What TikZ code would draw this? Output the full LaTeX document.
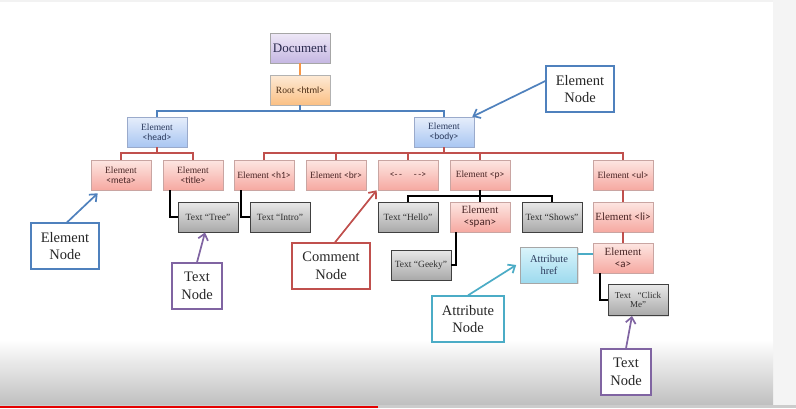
\documentclass[tikz,border=0pt]{standalone}
\usepackage{fontspec}
\setmainfont{Liberation Serif}
\newfontfamily\tagf{Carlito}
\usetikzlibrary{shadows,arrows.meta}
\definecolor{bluetop}{HTML}{E6EEFB}
\definecolor{bluebot}{HTML}{A9C6F2}
\definecolor{bluebd}{HTML}{9AAACB}
\definecolor{redtop}{HTML}{FDE6E2}
\definecolor{redbot}{HTML}{F6A9A1}
\definecolor{redbd}{HTML}{C9A5A2}
\definecolor{graytop}{HTML}{E8E8E8}
\definecolor{graybot}{HTML}{A9A9A9}
\definecolor{doctop}{HTML}{EEE8F7}
\definecolor{docbot}{HTML}{C5B7E2}
\definecolor{roottop}{HTML}{FDEAD6}
\definecolor{rootbot}{HTML}{FBC084}
\definecolor{attrtop}{HTML}{DAF4FB}
\definecolor{attrbot}{HTML}{9DDAEE}
\definecolor{cblue}{HTML}{4F81BD}
\definecolor{cred}{HTML}{C0504D}
\definecolor{corange}{HTML}{F79646}
\definecolor{cteal}{HTML}{4BACC6}
\definecolor{cpurple}{HTML}{8064A2}
\definecolor{txtblue}{HTML}{2B3A5C}
\definecolor{txtred}{HTML}{4A2626}
\definecolor{txtgray}{HTML}{303030}
\definecolor{txtroot}{HTML}{4A2C14}
\definecolor{txtdoc}{HTML}{2A2A4E}
\begin{document}
\begin{tikzpicture}[x=1pt,y=-1pt,
  base/.style={rectangle, minimum width=60pt, minimum height=30pt, inner sep=1pt,
    align=center, line width=0.6pt,
    drop shadow={shadow xshift=1.2pt,shadow yshift=-1.2pt,opacity=0.22},
    font=\fontsize{9.5}{10.5}\selectfont},
  bluebox/.style={base, text=txtblue, draw=bluebd, top color=bluetop, bottom color=bluebot},
  redbox/.style={base, text=txtred, draw=redbd, top color=redtop, bottom color=redbot},
  graybox/.style={base, text=txtgray, draw=black!75, line width=0.9pt, top color=graytop, bottom color=graybot},
  docbox/.style={base, text=txtdoc, draw=gray!70, top color=doctop, bottom color=docbot},
  rootbox/.style={base, text=txtroot, draw=gray!60, top color=roottop, bottom color=rootbot},
  attrbox/.style={base, text=txtblue, draw=gray!70, top color=attrtop, bottom color=attrbot, minimum width=57pt, minimum height=36pt},
  callout/.style={rectangle, draw=#1, line width=1.3pt, fill=white, minimum width=68pt,
    minimum height=46pt, inner sep=1pt, align=center, text=black!85,
    font=\fontsize{14.5}{17.5}\selectfont},
  bcon/.style={draw=cblue, line width=1.6pt},
  rcon/.style={draw=cred, line width=1.4pt},
  kcon/.style={draw=black, line width=1.8pt},
  ocon/.style={draw=corange, line width=1.6pt},
  tcon/.style={draw=cteal, line width=1.6pt},
  callarrow/.style={line width=1.7pt, -{Straight Barb[length=6pt,width=10pt,line width=1.7pt]}}
]
\useasboundingbox (0,0) rectangle (796,408);
% background (screenshot frame)
\fill[white] (0,0) rectangle (796,408);
\fill[gray!10] (0,0) rectangle (773,2);
\fill[gray!9] (773,0) rectangle (796,408);
\shade[top color=white, bottom color=black!25] (0,340) rectangle (773,405);
\fill[black!20] (0,405) rectangle (796,408);
\fill[red!90!black] (0,405.5) rectangle (378,408);

% tree nodes
\node[docbox, font=\fontsize{13}{14}\selectfont] (doc) at (300,48) {Document};
\node[rootbox] (root) at (300,90) {Root {\tagf <html>}};
\node[bluebox] (head) at (157,132) {Element\\{\tagf <head>}};
\node[bluebox] (body) at (444,132) {Element\\{\tagf <body>}};
\node[redbox] (meta) at (121,175) {Element\\{\tagf <meta>}};
\node[redbox] (title) at (193,175) {Element\\{\tagf <title>}};
\node[redbox] (h1) at (264,175) {Element {\tagf <h1>}};
\node[redbox] (br) at (336,175) {Element {\tagf <br>}};
\node[redbox] (cm) at (408,175) {{\tagf <-\,-\hspace{12pt}-\,->}};
\node[redbox] (p) at (480,175) {Element {\tagf <p>}};
\node[redbox] (ul) at (623,175) {Element {\tagf <ul>}};
\node[graybox] (tree) at (208,217) {Text “Tree”};
\node[graybox] (intro) at (280,217) {Text “Intro”};
\node[graybox] (hello) at (408,217) {Text “Hello”};
\node[redbox, font=\fontsize{11}{12}\selectfont] (span) at (480,217) {Element\\{\tagf <span>}};
\node[graybox] (shows) at (552,217) {Text “Shows”};
\node[redbox, font=\fontsize{11}{12}\selectfont] (li) at (623,217) {Element {\tagf <li>}};
\node[graybox] (geeky) at (421,265) {Text “Geeky”};
\node[attrbox, font=\fontsize{10.5}{12.5}\selectfont] (attr) at (549,265) {Attribute\\href};
\node[redbox, font=\fontsize{11}{12}\selectfont] (a) at (623,258) {Element\\{\tagf <a>}};
\node[graybox, minimum height=31pt, font=\fontsize{9}{9.5}\selectfont] (click) at (638,300) {Text\ \ \ “Click\\Me”};

% connectors
\coordinate (rj) at (300,111);
\coordinate (hj) at (157,153);
\coordinate (bj) at (444,153);
\coordinate (pj) at (480,196);
\draw[ocon] (doc) -- (root);
\draw[bcon] (root.south) -- (rj);
\draw[bcon] (rj) -| (head.north);
\draw[bcon] (rj) -| (body.north);
\draw[rcon] (head.south) -- (hj);
\draw[rcon] (hj) -| (meta.north);
\draw[rcon] (hj) -| (title.north);
\draw[rcon] (body.south) -- (bj);
\draw[rcon] (bj) -| (h1.north);
\draw[rcon] (bj) -| (br.north);
\draw[rcon] (bj) -| (cm.north);
\draw[rcon] (bj) -| (p.north);
\draw[rcon] (bj) -| (ul.north);
\draw[rcon] (ul) -- (li);
\draw[rcon] (li) -- (a);
\draw[kcon] ([xshift=-23pt]title.south) |- (tree.west);
\draw[kcon] ([xshift=-23pt]h1.south) |- (intro.west);
\draw[kcon] (p.south) -- (pj);
\draw[kcon] (pj) -| (hello.north);
\draw[kcon] (pj) -| (shows.north);
\draw[kcon] (pj) -- (span.north);
\draw[kcon] ([xshift=-24pt]span.south) |- (geeky.east);
\draw[kcon] ([xshift=-23pt]a.south) |- (click.west);
\coordinate (aw) at ([yshift=4pt]a.west);
\draw[tcon] (attr.east |- aw) -- (aw);

% callouts
\node[callout=cblue] (en1) at (580,89) {Element\\Node};
\node[callout=cblue] (en2) at (65,246) {Element\\Node};
\node[callout=cpurple, minimum width=50pt] (tn1) at (197,286) {Text\\Node};
\node[callout=cred, minimum width=78pt] (cn) at (331,266) {Comment\\Node};
\node[callout=cteal, minimum width=72pt] (an) at (468,319) {Attribute\\Node};
\node[callout=cpurple, minimum width=50pt] (tn2) at (626,372) {Text\\Node};

\draw[callarrow, cblue] ([yshift=8pt]en1.west) -- ([xshift=-2pt]body.north east);
\draw[callarrow, cblue] ([xshift=2pt]en2.north) -- ([xshift=7pt,yshift=-3pt]meta.south west);
\draw[callarrow, cpurple] (tn1.north) -- ([xshift=-3pt]tree.south);
\draw[callarrow, cred] ([xshift=4pt]cn.north) -- ([xshift=-1pt]cm.south west);
\draw[callarrow, cteal] (an.north) -- ([xshift=-4pt]attr.west);
\draw[callarrow, cpurple] (tn2.north) -- ([xshift=-6pt]click.south);
\end{tikzpicture}
\end{document}
